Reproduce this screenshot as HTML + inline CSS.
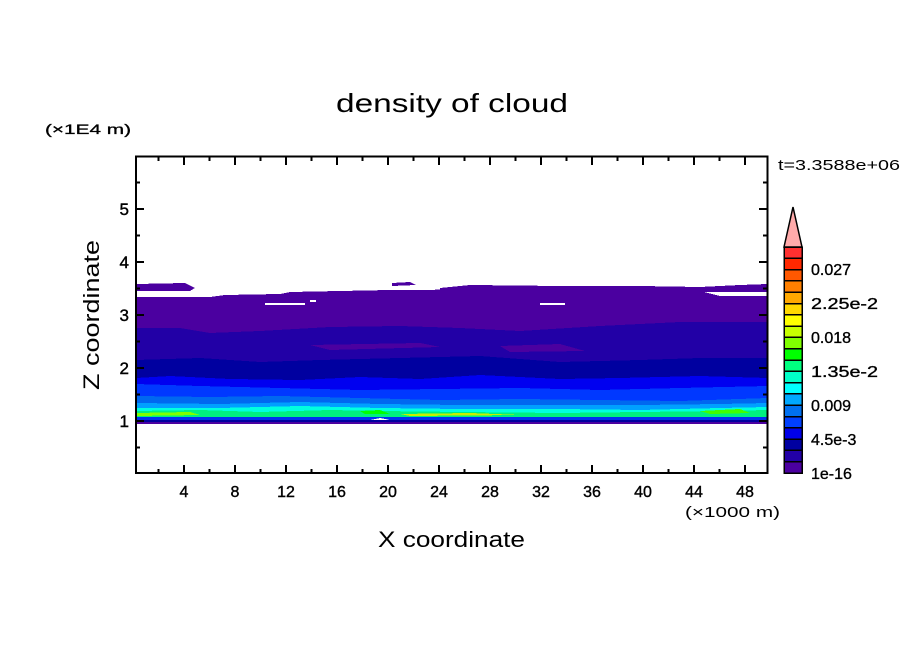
<!DOCTYPE html>
<html><head><meta charset="utf-8"><style>
html,body{margin:0;padding:0;background:#fff;}
svg text{font-family:"Liberation Sans",sans-serif;fill:#000;}
</style></head><body>
<svg width="904" height="654" viewBox="0 0 904 654" xmlns="http://www.w3.org/2000/svg">
<defs><clipPath id="c"><rect x="136" y="156" width="632" height="317"/></clipPath></defs>
<g clip-path="url(#c)" shape-rendering="crispEdges">
<path d="M136 284 L185 283 L195 288 L190 291 L136 291Z" fill="#4B00A0"/>
<path d="M392 283 L410 282 L416 285 L392 286Z" fill="#4B00A0"/>
<path d="M440 288 L470 285 L560 286 L640 286 L700 287 L740 285 L768 284 L768 292 L440 292Z" fill="#4B00A0"/>
<path d="M136 297 L210 297 L225 295 L280 294 L290 292 L340 291 L390 290 L430 290 L450 289 L520 288 L600 289 L700 291 L720 296 L768 296 L768 424 L136 424Z" fill="#4B00A0"/>
<rect x="265" y="303" width="40" height="2" fill="#fff"/>
<rect x="310" y="300" width="6" height="2" fill="#fff"/>
<rect x="540" y="303" width="25" height="2" fill="#fff"/>
<path d="M136 328 L180 328 L210 333 L260 331 L330 327 L400 326 L460 328 L520 331 L600 326 L680 322 L768 322 L768 424 L136 424Z" fill="#2200A6"/>
<path d="M310 345 L420 343 L440 347 L330 350Z" fill="#4B00A0"/>
<path d="M500 346 L560 344 L585 351 L510 352Z" fill="#4B00A0"/>
<path d="M136 360 L200 358 L260 362 L320 360 L400 358 L480 356 L560 362 L640 360 L700 358 L768 358 L768 424 L136 424Z" fill="#0000A0"/>
<path d="M136 378 L170 376 L230 379 L300 380 L360 377 L420 379 L480 375 L560 379 L620 378 L700 376 L768 378 L768 424 L136 424Z" fill="#0000F0"/>
<path d="M136 384 L200 386 L280 388 L360 390 L440 389 L520 388 L600 390 L680 388 L768 386 L768 424 L136 424Z" fill="#0038FF"/>
<path d="M136 396 L210 397 L280 396 L360 398 L440 400 L520 399 L600 400 L680 401 L768 398 L768 424 L136 424Z" fill="#0068F0"/>
<path d="M136 403 L220 404 L300 402 L380 404 L460 405 L560 405 L640 405 L720 404 L768 403 L768 424 L136 424Z" fill="#00A0FF"/>
<path d="M136 408 L220 408 L300 406 L380 408 L460 409 L560 409 L640 410 L720 408 L768 407 L768 424 L136 424Z" fill="#00FFE0"/>
<path d="M136 411 L200 410 L260 412 L330 410 L380 411 L460 412 L560 413 L640 412 L720 411 L768 410 L768 418 L136 418Z" fill="#00F080"/>
<path d="M136 413 L190 412 L200 415 L136 416Z" fill="#80FF00"/>
<path d="M360 411 L380 410 L390 414 L365 414Z" fill="#00FF00"/>
<path d="M400 414 L470 413 L520 415 L410 416Z" fill="#C8F000"/>
<path d="M700 411 L740 409 L750 413 L710 414Z" fill="#40FF00"/>
<rect x="136" y="417" width="632" height="3" fill="#0030F0"/>
<rect x="136" y="420" width="632" height="2" fill="#0000A0"/>
<rect x="136" y="422" width="632" height="2" fill="#4B00A0"/>
<path d="M370 420 L380 418 L390 420Z" fill="#fff"/>
</g>
<rect x="136" y="156.5" width="631.5" height="316.5" fill="none" stroke="#000" stroke-width="2"/>
<g stroke="#000" stroke-width="2">
<path d="M136 421h8M136 368h8M136 315h8M136 262h8M136 209h8M767 421h-8M767 368h-8M767 315h-8M767 262h-8M767 209h-8"/>
<path d="M136 447.5h4M136 394.5h4M136 341.5h4M136 288.5h4M136 235.5h4M136 182.5h4M767 447.5h-4M767 394.5h-4M767 341.5h-4M767 288.5h-4M767 235.5h-4M767 182.5h-4"/>
<path d="M184 473v-8M235 473v-8M286 473v-8M337 473v-8M388 473v-8M439 473v-8M490 473v-8M541 473v-8M592 473v-8M643 473v-8M694 473v-8M745 473v-8M184 157v8M235 157v8M286 157v8M337 157v8M388 157v8M439 157v8M490 157v8M541 157v8M592 157v8M643 157v8M694 157v8M745 157v8"/>
<path d="M158.5 473v-4M209.5 473v-4M260.5 473v-4M311.5 473v-4M362.5 473v-4M413.5 473v-4M464.5 473v-4M515.5 473v-4M566.5 473v-4M617.5 473v-4M668.5 473v-4M719.5 473v-4M158.5 157v4M209.5 157v4M260.5 157v4M311.5 157v4M362.5 157v4M413.5 157v4M464.5 157v4M515.5 157v4M566.5 157v4M617.5 157v4M668.5 157v4M719.5 157v4"/>
</g>
<g font-size="17" text-anchor="end" stroke="#000" stroke-width="0.4">
<text x="129" y="427">1</text><text x="129" y="374">2</text><text x="129" y="321">3</text><text x="129" y="268">4</text><text x="129" y="215">5</text>
</g>
<g font-size="16" text-anchor="middle" stroke="#000" stroke-width="0.4">
<text x="184" y="497">4</text><text x="235" y="497">8</text><text x="286" y="497">12</text><text x="337" y="497">16</text><text x="388" y="497">20</text><text x="439" y="497">24</text><text x="490" y="497">28</text><text x="541" y="497">32</text><text x="592" y="497">36</text><text x="643" y="497">40</text><text x="694" y="497">44</text><text x="745" y="497">48</text>
</g>
<text x="336" y="112" font-size="26" textLength="232" lengthAdjust="spacingAndGlyphs">density of cloud</text>
<text x="378" y="547" font-size="22" textLength="147" lengthAdjust="spacingAndGlyphs">X coordinate</text>
<text x="0" y="0" font-size="22" transform="translate(99,390) rotate(-90)" textLength="150" lengthAdjust="spacingAndGlyphs">Z coordinate</text>
<text x="45" y="134" font-size="14" textLength="86" lengthAdjust="spacingAndGlyphs" stroke="#000" stroke-width="0.3">(×1E4 m)</text>
<text x="685" y="517" font-size="15" textLength="95" lengthAdjust="spacingAndGlyphs">(×1000 m)</text>
<text x="778" y="170" font-size="15" fill="#222" textLength="122" lengthAdjust="spacingAndGlyphs">t=3.3588e+06</text>
<g stroke="#000" stroke-width="1.5" shape-rendering="crispEdges">
<rect x="784" y="461.7" width="18" height="11.3" fill="#4B00A0"/>
<rect x="784" y="450.4" width="18" height="11.3" fill="#2200A6"/>
<rect x="784" y="439.1" width="18" height="11.3" fill="#0000A0"/>
<rect x="784" y="427.8" width="18" height="11.3" fill="#0000E8"/>
<rect x="784" y="416.5" width="18" height="11.3" fill="#0040FF"/>
<rect x="784" y="405.2" width="18" height="11.3" fill="#0070F0"/>
<rect x="784" y="393.9" width="18" height="11.3" fill="#00A8FF"/>
<rect x="784" y="382.6" width="18" height="11.3" fill="#00FFFF"/>
<rect x="784" y="371.3" width="18" height="11.3" fill="#00FFC8"/>
<rect x="784" y="360" width="18" height="11.3" fill="#00FF80"/>
<rect x="784" y="348.7" width="18" height="11.3" fill="#00FF00"/>
<rect x="784" y="337.4" width="18" height="11.3" fill="#80FF00"/>
<rect x="784" y="326.1" width="18" height="11.3" fill="#C8FF00"/>
<rect x="784" y="314.8" width="18" height="11.3" fill="#FFFF00"/>
<rect x="784" y="303.5" width="18" height="11.3" fill="#FFD800"/>
<rect x="784" y="292.2" width="18" height="11.3" fill="#FFA800"/>
<rect x="784" y="280.9" width="18" height="11.3" fill="#FF8000"/>
<rect x="784" y="269.6" width="18" height="11.3" fill="#FF5800"/>
<rect x="784" y="258.3" width="18" height="11.3" fill="#FF2800"/>
<rect x="784" y="247" width="18" height="11.3" fill="#FF3030"/>
</g>
<path d="M784 247 L793 207 L802 247Z" fill="#FFAAAA" stroke="#000" stroke-width="1.5"/>
<g font-size="16" stroke="#000" stroke-width="0.35">
<text x="811" y="479">1e-16</text>
<text x="811" y="445">4.5e-3</text>
<text x="811" y="411">0.009</text>
<text x="811" y="377" textLength="67" lengthAdjust="spacingAndGlyphs">1.35e-2</text>
<text x="811" y="343">0.018</text>
<text x="811" y="309" textLength="67" lengthAdjust="spacingAndGlyphs">2.25e-2</text>
<text x="811" y="275">0.027</text>
</g>
</svg>
</body></html>
